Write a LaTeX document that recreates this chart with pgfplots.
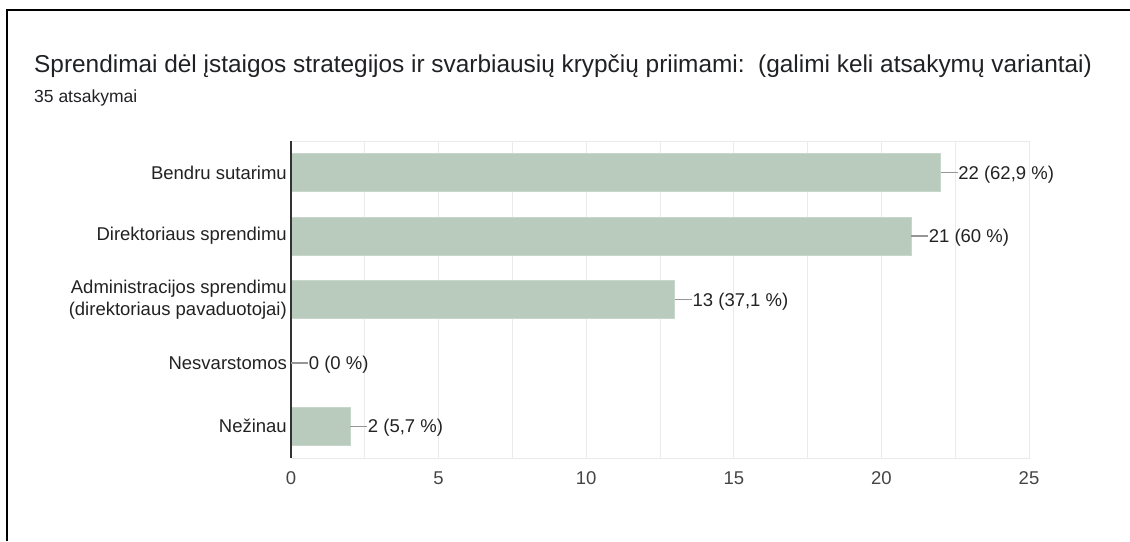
\documentclass[border=0pt]{standalone}
\usepackage{fontspec}
\setmainfont{Liberation Sans}
\usepackage{pgfplots}
\usepackage{pgfplotstable}
\pgfplotsset{compat=1.18}
\definecolor{barc}{RGB}{184,203,189}
\definecolor{barb}{RGB}{200,215,204}
\definecolor{gridc}{RGB}{235,235,235}
\definecolor{axc}{RGB}{51,51,51}
\definecolor{txt}{RGB}{34,34,34}
\definecolor{tickc}{RGB}{68,68,68}
\definecolor{leader}{RGB}{150,150,150}
\definecolor{ttl}{RGB}{32,33,36}

\pgfplotstableread[col sep=semicolon]{
pos;val;lab
0;22;22 (62,9 \%)
1;21;21 (60 \%)
2;13;13 (37,1 \%)
3;0;0 (0 \%)
4;2;2 (5,7 \%)
}\data

\begin{document}
\begin{tikzpicture}[x=1pt,y=1pt]
\useasboundingbox (0,0) rectangle (1130,541);
\draw[line width=2.6pt, black] (7,0) -- (7,531) -- (1131,531);
\node[anchor=base west, inner sep=0pt, text=ttl, font=\fontsize{24.4}{28}\selectfont] at (34,468) {Sprendimai dėl įstaigos strategijos ir svarbiausių krypčių priimami:\ \ (galimi keli atsakymų variantai)};
\node[anchor=base west, inner sep=0pt, text=ttl, font=\fontsize{17.5}{20}\selectfont] at (34,438) {35 atsakymai};
\begin{axis}[
  at={(291pt,83pt)}, anchor=south west,
  scale only axis, width=738pt, height=317pt,
  xmin=0, xmax=25, ymin=-0.5, ymax=4.5, y dir=reverse,
  xtick={0,5,...,25}, minor xtick={2.5,7.5,...,22.5},
  xmajorgrids, xminorgrids,
  grid style={gridc, line width=1pt},
  minor grid style={gridc, line width=1pt},
  major tick length=0pt, minor tick length=0pt,
  tick style={draw=none},
  axis line style={gridc, line width=1pt},
  ytick={0,1,2,3,4},
  yticklabels={Bendru sutarimu, Direktoriaus sprendimu, {Administracijos sprendimu\\(direktoriaus pavaduotojai)}, Nesvarstomos, Nežinau},
  yticklabel style={anchor=east, inner sep=0pt, xshift=-4pt, align=right, text=txt, font=\fontsize{18.5}{21.5}\selectfont},
  xticklabel style={anchor=center, inner sep=0pt, yshift=-20pt, text=tickc, font=\fontsize{18.5}{21}\selectfont},
  /pgf/number format/assume math mode=true,
  clip=false,
]
\addplot[xbar, bar width=0.6, fill=barc, draw=barb, line width=0.8pt,
  point meta=explicit symbolic,
  nodes near coords={\raisebox{-6.6pt}[0pt][0pt]{\textcolor{leader}{\rule[\dimexpr 6.6pt-0.75pt\relax]{17pt}{1.5pt}}\hspace{0.5pt}\pgfplotspointmeta}},
  every node near coord/.append style={anchor=west, inner sep=0pt, text=txt, font=\fontsize{18.5}{21}\selectfont},
] table[x=val, y=pos, meta=lab] {\data};
\draw[axc, line width=1.3pt] (axis cs:0,-0.5) -- (axis cs:0,4.5);
\end{axis}
\end{tikzpicture}
\end{document}
